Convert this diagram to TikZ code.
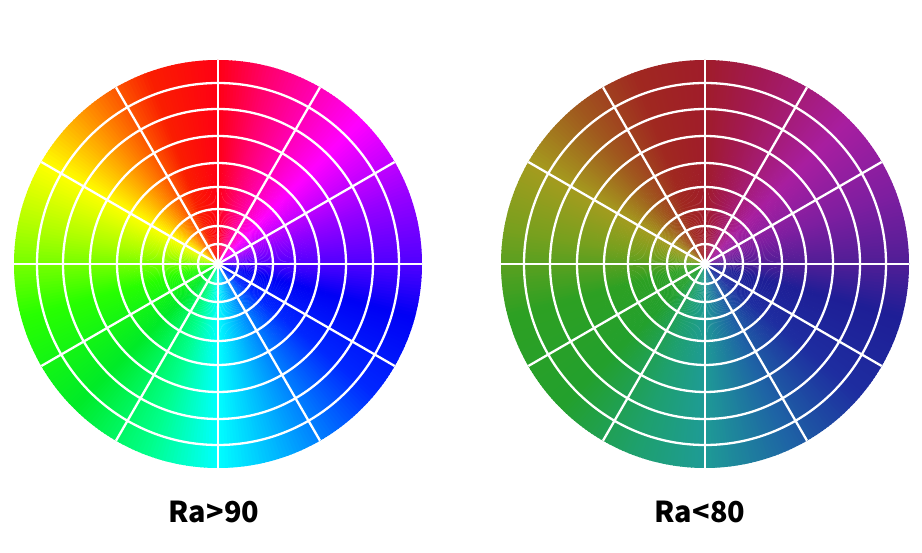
\documentclass[tikz,border=0pt]{standalone}
\usepackage{fontspec}
\setsansfont{Noto Sans CJK SC}
\usepackage{tikz}

% colour stops, left wheel (full saturation)
\definecolor{whA0}{RGB}{80,0,255}
\definecolor{whA1}{RGB}{150,0,255}
\definecolor{whA2}{RGB}{255,0,255}
\definecolor{whA3}{RGB}{255,0,110}
\definecolor{whA4}{RGB}{255,0,20}
\definecolor{whA5}{RGB}{250,30,0}
\definecolor{whA6}{RGB}{255,140,0}
\definecolor{whA7}{RGB}{255,255,0}
\definecolor{whA8}{RGB}{170,255,0}
\definecolor{whA9}{RGB}{40,255,0}
\definecolor{whA10}{RGB}{0,235,40}
\definecolor{whA11}{RGB}{0,255,140}
\definecolor{whA12}{RGB}{0,255,255}
\definecolor{whA13}{RGB}{0,150,255}
\definecolor{whA14}{RGB}{0,40,255}
\definecolor{whA15}{RGB}{0,0,245}
\definecolor{whA16}{RGB}{80,0,255}

% colour stops, right wheel (dull)
\definecolor{whB0}{RGB}{80,30,150}
\definecolor{whB1}{RGB}{125,30,160}
\definecolor{whB2}{RGB}{168,30,160}
\definecolor{whB3}{RGB}{162,25,80}
\definecolor{whB4}{RGB}{160,28,42}
\definecolor{whB5}{RGB}{160,40,32}
\definecolor{whB6}{RGB}{160,90,30}
\definecolor{whB7}{RGB}{165,155,30}
\definecolor{whB8}{RGB}{120,160,30}
\definecolor{whB9}{RGB}{45,160,35}
\definecolor{whB10}{RGB}{35,160,45}
\definecolor{whB11}{RGB}{30,160,110}
\definecolor{whB12}{RGB}{30,155,150}
\definecolor{whB13}{RGB}{30,100,165}
\definecolor{whB14}{RGB}{30,45,160}
\definecolor{whB15}{RGB}{30,30,150}
\definecolor{whB16}{RGB}{80,30,150}

% #1 centre, #2 set of colour stops
\newcommand{\drawwheel}[2]{%
  \begin{scope}
    \clip (#1) circle (204);
    \foreach \a/\b/\i/\j in {0/20/0/1, 20/45/1/2, 45/75/2/3, 75/90/3/4,
        90/110/4/5, 110/130/5/6, 130/150/6/7, 150/170/7/8, 170/195/8/9,
        195/225/9/10, 225/250/10/11, 250/270/11/12, 270/295/12/13,
        295/320/13/14, 320/345/14/15, 345/360/15/16}{
      \pgfmathtruncatemacro\bb{\b-1}
      \foreach \t in {\a,...,\bb}{
        \pgfmathsetmacro\p{100*(\t+0.5-\a)/(\b-\a)}
        \fill[#2\j!\p!#2\i] (#1) -- ++(\t:215)
          arc[start angle=\t, end angle=\t+1.3, radius=215] -- cycle;
      }
    }
  \end{scope}
  % Grid
  \foreach \r in {20,38,55,77,101,128,155,181}
    \draw[gridline] (#1) circle (\r);
  \foreach \t in {0,30,...,330}
    \draw[gridline] (#1) -- ++(\t:204);
}

\begin{document}
\begin{tikzpicture}[x=0.5mm, y=0.5mm,
    gridline/.style={white, line width=1.15mm},
    wheellabel/.style={font=\sffamily\bfseries\fontsize{41}{48}\selectfont}]

    \useasboundingbox (0,0) rectangle (922,553);

    % Wheels
    \coordinate (good) at (218,289);
    \coordinate (poor) at (705,289);
    \drawwheel{good}{whA}
    \drawwheel{poor}{whB}

    % Labels
    \node[wheellabel] (goodlabel) at (214,41) {Ra>90};
    \node[wheellabel] (poorlabel) at (700,41) {Ra<80};

\end{tikzpicture}
\end{document}
